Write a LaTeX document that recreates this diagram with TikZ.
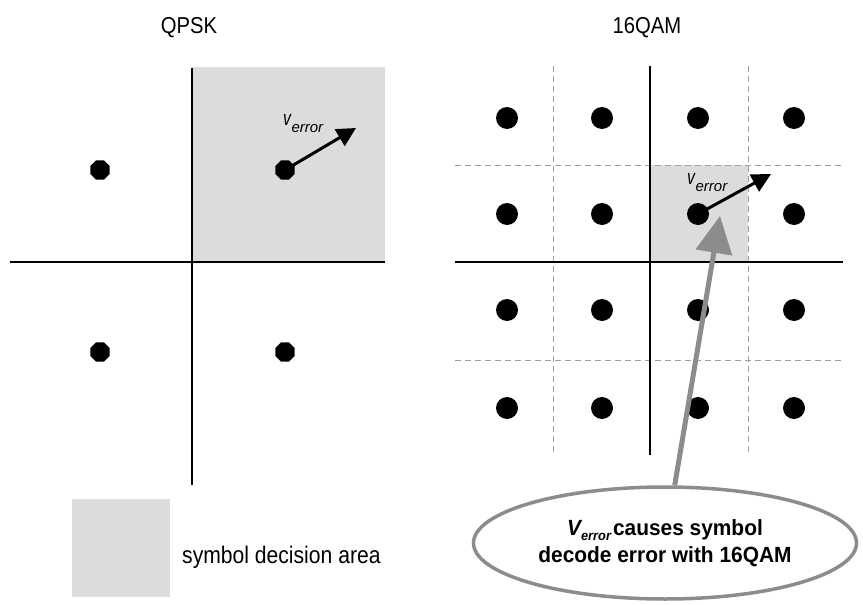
\documentclass[tikz,border=0pt]{standalone}
\usepackage{fontspec}
\setmainfont{Liberation Sans}
\newfontfamily\cond[FakeStretch=0.88]{Liberation Sans}
\newfontfamily\narrowv[FakeStretch=0.75]{Liberation Sans}
\newfontfamily\boldcond[FakeStretch=0.95]{Liberation Sans}
\usetikzlibrary{arrows.meta,shapes.geometric}
\definecolor{areagray}{HTML}{DCDCDC}
\definecolor{gridgray}{HTML}{A0A0A0}
\definecolor{callgray}{HTML}{8C8C8C}
% subscripted error label: large italic v with a small italic "error"
\newcommand{\verrlabel}{{\narrowv\itshape\fontsize{21}{22}\selectfont v}\kern0.5pt\raisebox{-7pt}{\itshape\fontsize{15}{16}\selectfont error}}
\tikzset{
  octdot/.style={regular polygon,regular polygon sides=8,fill=black,minimum size=21pt,inner sep=0pt},
  rounddot/.style={circle,fill=black,minimum size=22pt,inner sep=0pt},
  axisline/.style={line width=1.4pt,black},
  gridline/.style={gridgray,line width=1pt,dash pattern=on 6pt off 4pt},
  errvec/.style={line width=3pt,-{Triangle[length=19pt,width=19pt]}},
  title/.style={font=\cond\fontsize{23}{26}\selectfont,anchor=base,inner sep=0pt},
  vlabel/.style={inner sep=0pt,anchor=base west},
  callout/.style={ellipse,draw=callgray,line width=3.5pt,minimum width=383pt,minimum height=112pt,inner sep=0pt,align=center,
    font=\boldcond\bfseries\fontsize{22}{27}\selectfont},
  callarrow/.style={callgray,line width=5pt,-{Triangle[length=37pt,width=36pt]}}
}
\begin{document}
\begin{tikzpicture}[x=1pt,y=-1pt]
\useasboundingbox (0,0) rectangle (863,605);

% ---------- QPSK ----------
\node[title] (tq) at (189,34) {QPSK};
\fill[areagray] (192,67) rectangle (385,262);
\draw[axisline] (10,262) -- (385,262);
\draw[axisline] (192,68) -- (192,485);
\node[octdot] (q1) at (285,170) {};
\node[octdot] (q2) at (100,170) {};
\node[octdot] (q3) at (100,352) {};
\node[octdot] (q4) at (285,352) {};
\coordinate (qtip) at (356,128);
\draw[errvec] (q1.center) -- (qtip);
\node[vlabel] (qv) at (283,125) {\verrlabel};

% ---------- 16QAM ----------
\node[title] (tm) at (647,33) {16QAM};
\fill[areagray] (650,165) rectangle (748,262);
\foreach \x in {553,748} \draw[gridline] (\x,66) -- (\x,452);
\foreach \y in {165,360} \draw[gridline] (455,\y) -- (843,\y);
\draw[axisline] (455,262) -- (843,262);
\draw[axisline] (650,66) -- (650,455);
\foreach \x [count=\i] in {507,602,698,794}
  \foreach \y [count=\j] in {118,214,310,408}
    \node[rounddot] (m\i\j) at (\x,\y) {};
\coordinate (mtip) at (771,174);
\draw[errvec] (m32.center) -- (mtip);
\node[vlabel] (mv) at (687,184) {\verrlabel};

% ---------- callout ----------
\node[callout] (ell) at (665,543)
  {{\itshape V\raisebox{-5pt}{\fontsize{13.5}{14}\selectfont error}}\kern2pt causes symbol\\decode error with 16QAM};
\coordinate (ctip) at (720,216);
\draw[callarrow] (ell) -- (ctip);

% ---------- legend ----------
\fill[areagray] (72,499) rectangle (170,597);
\node[anchor=base west,font=\cond\fontsize{24}{26}\selectfont,inner sep=0pt] (leg) at (182,563) {symbol decision area};
\end{tikzpicture}
\end{document}
